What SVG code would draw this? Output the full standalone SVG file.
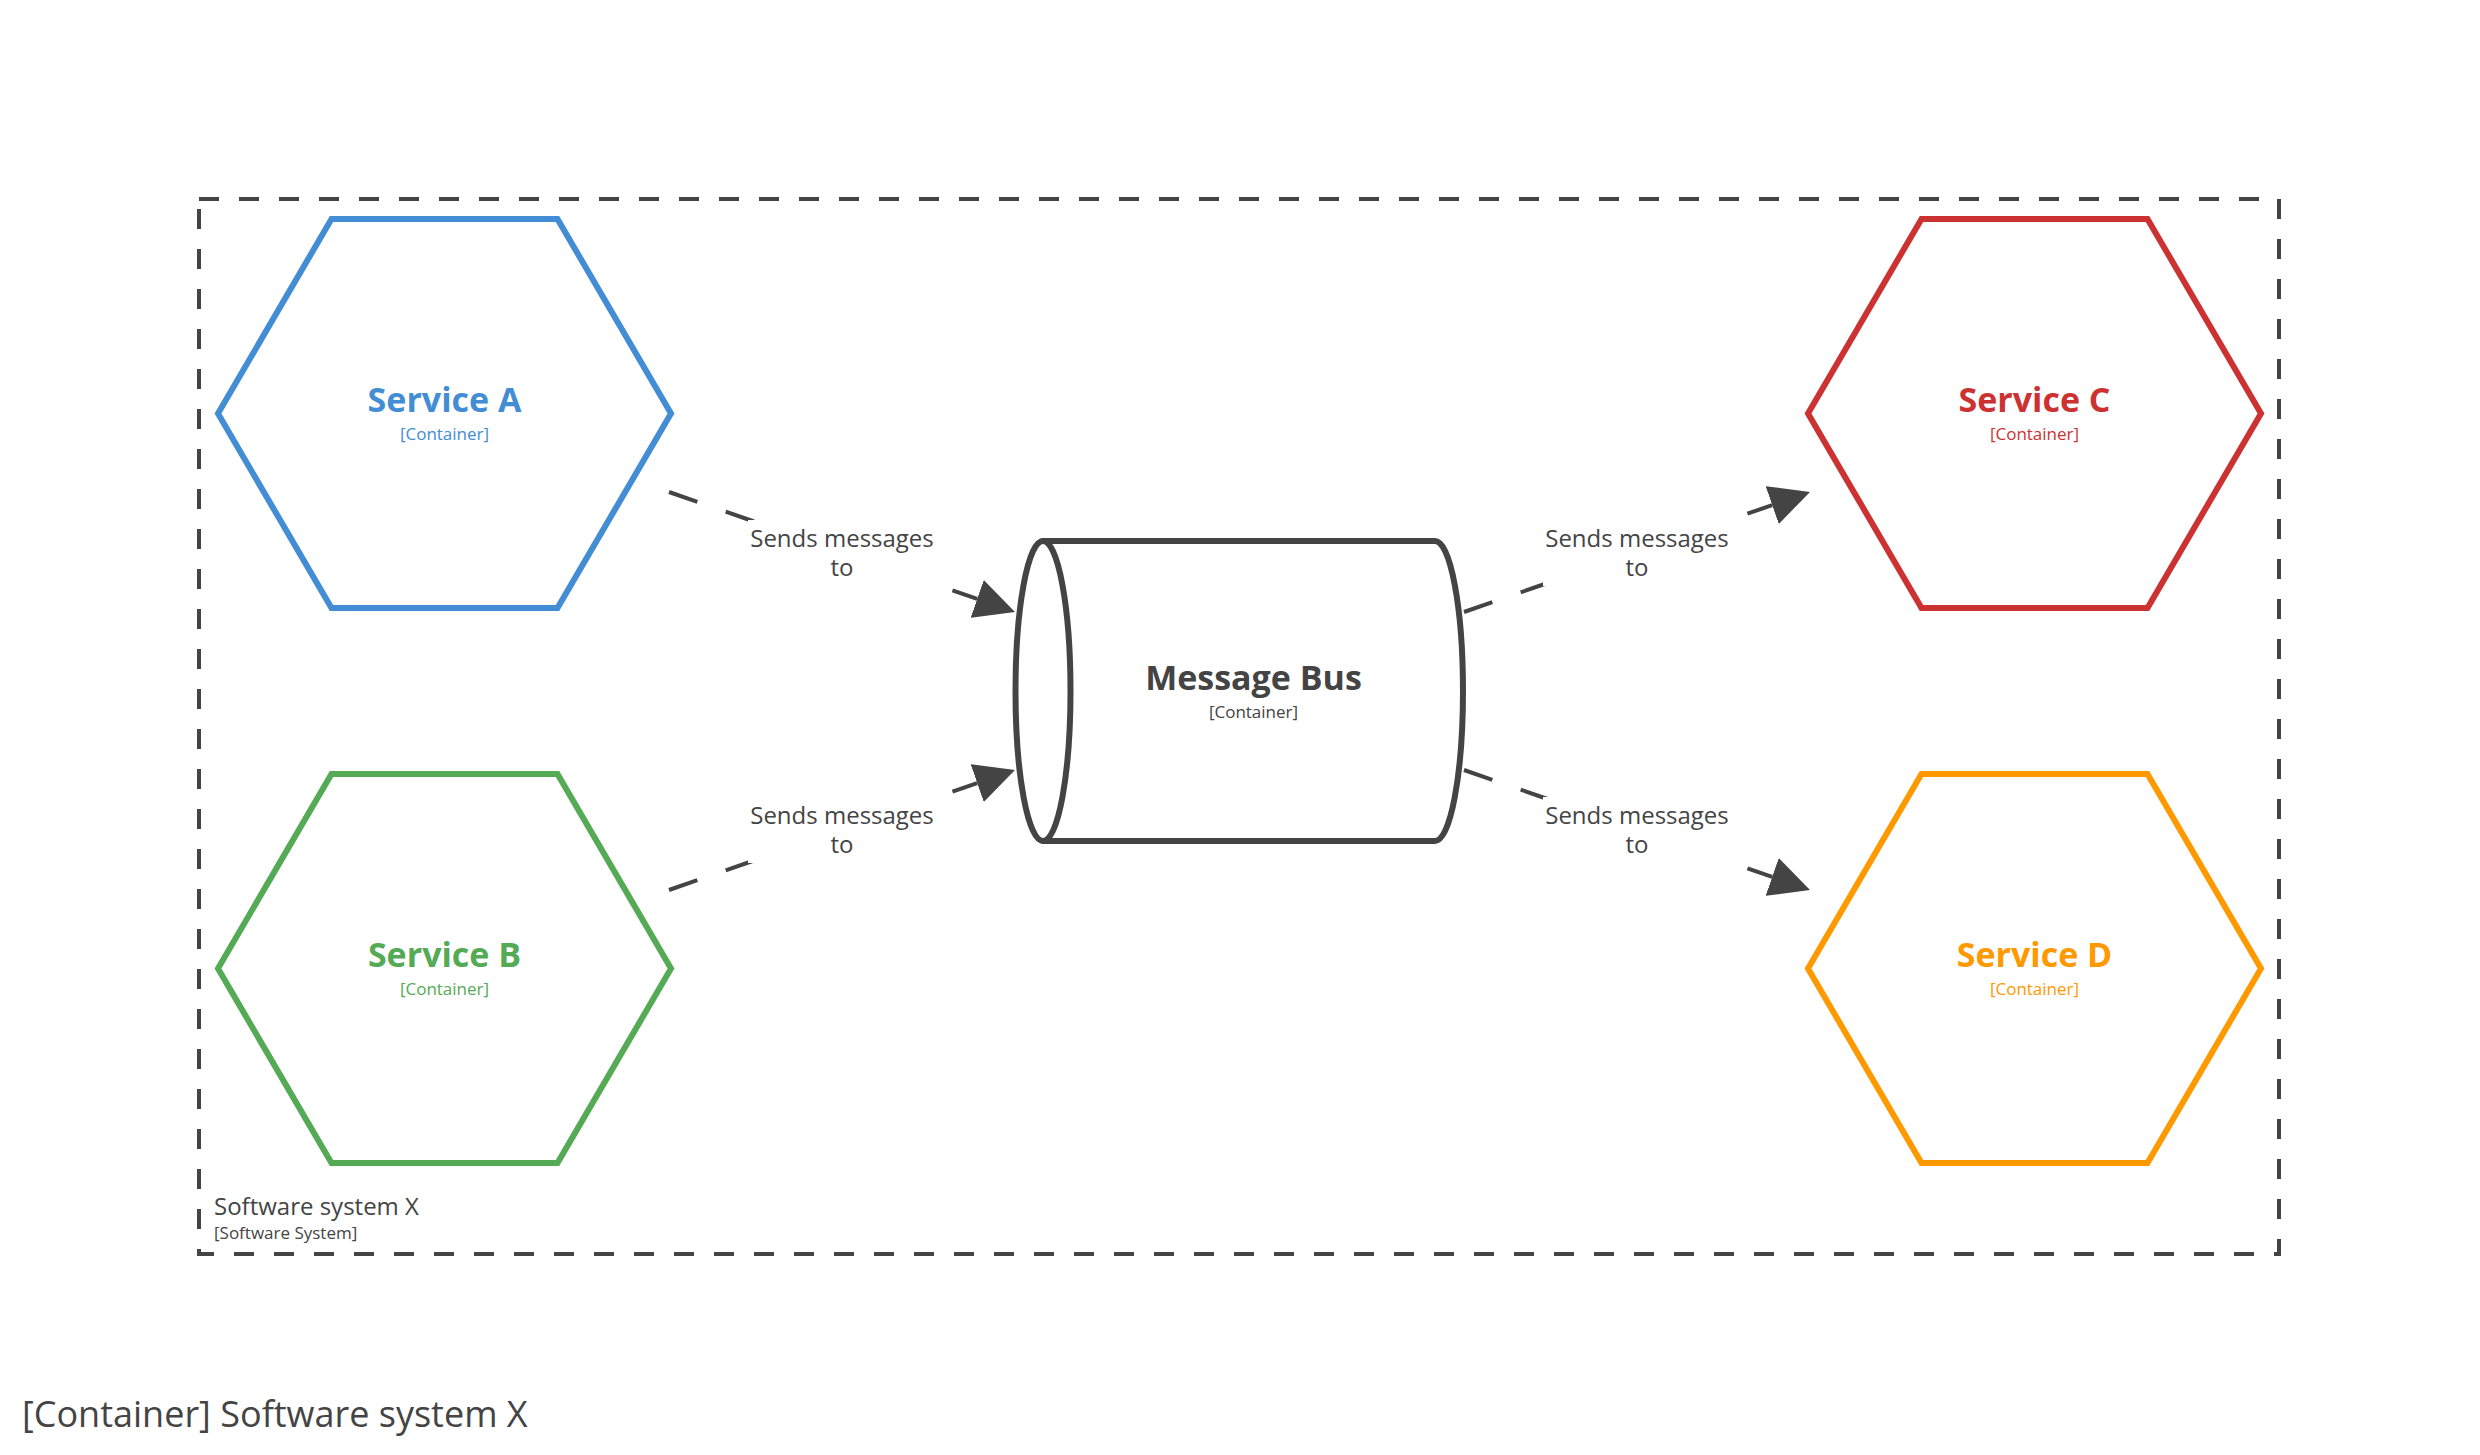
<svg xmlns="http://www.w3.org/2000/svg" width="2480" height="1455" viewBox="0 0 2480 1455">
  <style>
    .name { font-family: "Open Sans", "Liberation Sans", sans-serif; font-weight: bold; font-size: 34px; text-anchor: middle; }
    .meta { font-family: "Open Sans", "Liberation Sans", sans-serif; font-size: 17px; text-anchor: middle; }
    .lbl { font-family: "Open Sans", "Liberation Sans", sans-serif; font-size: 24px; text-anchor: middle; fill: #444444; }
    .hex { fill: #ffffff; stroke-width: 6; stroke-linejoin: miter; }
    .conn { fill: none; stroke: #444444; stroke-width: 4; stroke-dasharray: 30 30; marker-end: url(#arrow); }
    .lblbg { fill: #ffffff; }
  </style>
  <defs>
    <marker id="arrow" markerUnits="userSpaceOnUse" markerWidth="40" markerHeight="40" refX="0" refY="20" orient="auto" viewBox="0 0 40 40">
      <path d="M0,0 L40,20 L0,40 Z" fill="#444444"/>
    </marker>
  </defs>
  <rect x="0" y="0" width="2480" height="1455" fill="#ffffff"/>

  <g id="boundary">
    <rect x="199" y="199" width="2080" height="1055" fill="none" stroke="#444444" stroke-width="4" stroke-dasharray="20 20"/>
    <text x="214" y="1215" font-family="Open Sans, Liberation Sans, sans-serif" font-size="24" fill="#444444">Software system X</text>
    <text x="214" y="1239" font-family="Open Sans, Liberation Sans, sans-serif" font-size="17" fill="#444444">[Software System]</text>
  </g>

  <g id="connectors">
    <g id="a-to-bus">
      <line class="conn" x1="669" y1="492" x2="977.2" y2="598.9"/>
      <rect class="lblbg" x="748" y="520" width="188" height="66"/>
      <text class="lbl" x="842" y="547">Sends messages<tspan x="842" dy="29">to</tspan></text>
    </g>
    <g id="b-to-bus">
      <line class="conn" x1="669" y1="890" x2="977.2" y2="783.1"/>
      <rect class="lblbg" x="748" y="797" width="188" height="66"/>
      <text class="lbl" x="842" y="824">Sends messages<tspan x="842" dy="29">to</tspan></text>
    </g>
    <g id="bus-to-c">
      <line class="conn" x1="1464" y1="612" x2="1772.2" y2="505.1"/>
      <rect class="lblbg" x="1543" y="520" width="188" height="66"/>
      <text class="lbl" x="1637" y="547">Sends messages<tspan x="1637" dy="29">to</tspan></text>
    </g>
    <g id="bus-to-d">
      <line class="conn" x1="1464" y1="770" x2="1772.2" y2="876.9"/>
      <rect class="lblbg" x="1543" y="797" width="188" height="66"/>
      <text class="lbl" x="1637" y="824">Sends messages<tspan x="1637" dy="29">to</tspan></text>
    </g>
  </g>

  <g id="service-a">
    <polygon class="hex" stroke="#438DD5" points="218,413.5 331.5,219 557.5,219 671,413.5 557.5,608 331.5,608"/>
    <text class="name" x="444.5" y="412" fill="#438DD5">Service A</text>
    <text class="meta" x="444.5" y="440" fill="#438DD5">[Container]</text>
  </g>

  <g id="service-b">
    <polygon class="hex" stroke="#55AA55" points="218,968.5 331.5,774 557.5,774 671,968.5 557.5,1163 331.5,1163"/>
    <text class="name" x="444.5" y="967" fill="#55AA55">Service B</text>
    <text class="meta" x="444.5" y="995" fill="#55AA55">[Container]</text>
  </g>

  <g id="service-c">
    <polygon class="hex" stroke="#CC3232" points="1808,413.5 1921.5,219 2147.5,219 2261,413.5 2147.5,608 1921.5,608"/>
    <text class="name" x="2034.5" y="412" fill="#CC3232">Service C</text>
    <text class="meta" x="2034.5" y="440" fill="#CC3232">[Container]</text>
  </g>

  <g id="service-d">
    <polygon class="hex" stroke="#FF9900" points="1808,968.5 1921.5,774 2147.5,774 2261,968.5 2147.5,1163 1921.5,1163"/>
    <text class="name" x="2034.5" y="967" fill="#FF9900">Service D</text>
    <text class="meta" x="2034.5" y="995" fill="#FF9900">[Container]</text>
  </g>

  <g id="message-bus">
    <path d="M1043,541 L1435,541 A28,150 0 0 1 1435,841 L1043,841 Z" fill="#ffffff" stroke="#444444" stroke-width="6" stroke-linejoin="round"/>
    <ellipse cx="1043" cy="691" rx="27.5" ry="150" fill="#ffffff" stroke="#444444" stroke-width="6"/>
    <text class="name" x="1253.5" y="690" fill="#444444">Message Bus</text>
    <text class="meta" x="1253.5" y="718" fill="#444444">[Container]</text>
  </g>

  <g id="title">
    <text x="22" y="1427" font-family="Open Sans, Liberation Sans, sans-serif" font-size="36" fill="#444444">[Container] Software system X</text>
  </g>
</svg>
